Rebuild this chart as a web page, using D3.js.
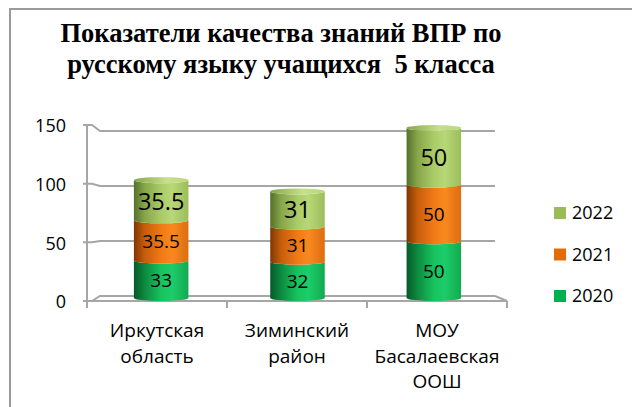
<!DOCTYPE html>
<html>
<head>
<meta charset="utf-8">
<script src="https://cdn.jsdelivr.net/npm/d3@7"></script>
<style>
  body { margin: 0; background: #fff; }
  svg { display: block; }
</style>
</head>
<body>
<div id="chart"></div>
<script>
// data
let categories = [["Иркутская", "область"], ["Зиминский", "район"], ["МОУ", "Басалаевская", "ООШ"]];
let years = ["2020", "2021", "2022"];
let v2020 = [33, 32, 50];
let v2021 = [35.5, 31, 50];
let v2022 = [35.5, 31, 50];
let yTicks = [0, 50, 100, 150];
let titleLines = ["Показатели качества знаний ВПР по", "русскому языку учащихся  5 класса"];

let width = 632;
let height = 407;
let labelFont = "'Open Sans', 'Noto Sans', sans-serif";

let svg = d3.select("#chart")
    .append("svg")
    .attr("width", width)
    .attr("height", height);

// outer frame (only top and left visible)
svg.append("path")
    .attr("d", "M10,408 L10,9 L633,9")
    .attr("fill", "none")
    .attr("stroke", "#9a9a9a")
    .attr("stroke-width", 2);

// title
svg.append("text")
    .attr("x", 281)
    .attr("y", 42)
    .attr("text-anchor", "middle")
    .style("white-space", "pre")
    .style("font", "bold 26.5px 'Liberation Serif', 'Times New Roman', serif")
    .selectAll("tspan")
    .data(titleLines)
    .join("tspan")
    .attr("x", 281)
    .attr("dy", (d, i) => i == 0 ? 0 : 31)
    .text(d => d);

let names = categories.map(d => d.join(" "));

// scales
let xFront = d3.scaleBand().domain(names).range([87, 507]);
let xBar = d3.scaleBand().domain(names).range([93, 502]);
let yFront = d3.scaleLinear().domain([0, 150]).range([301, 125]);
let yBack = d3.scaleLinear().domain([0, 150]).range([296, 131]);
let yBar = d3.scaleLinear().domain([0, 150]).range([298, 128]);

let gridColor = "#a6a6a6";
let grid = svg.append("g")
    .attr("fill", "none")
    .attr("stroke", gridColor)
    .attr("stroke-width", 2);

// back wall gridlines with the slanted side wall edge
grid.selectAll("path.grid")
    .data(yTicks)
    .join("path")
    .attr("class", "grid")
    .attr("d", t => {
        let x0 = xFront.range()[0];
        return `M${x0 - 4},${yFront(t)} L${x0 + 5},${yFront(t)} L${x0 + 13},${yBack(t)} L495,${yBack(t)}`;
    });

// floor front edge + right slant
grid.append("path")
    .attr("d", `M${xFront.range()[0]},${yFront(0)} L${xFront.range()[1]},${yFront(0)} L495,${yBack(0)}`);

// y axis line
grid.append("line")
    .attr("x1", xFront.range()[0]).attr("x2", xFront.range()[0])
    .attr("y1", yFront(150)).attr("y2", yFront(0) + 7);

// x ticks
let xTickPos = names.map(n => xFront(n)).concat([xFront.range()[1]]);
grid.selectAll("line.xt")
    .data(xTickPos)
    .join("line")
    .attr("class", "xt")
    .attr("x1", d => d).attr("x2", d => d)
    .attr("y1", yFront(0)).attr("y2", yFront(0) + 7);

// y tick labels
svg.append("g")
    .selectAll("text")
    .data(yTicks)
    .join("text")
    .attr("x", 66)
    .attr("y", d => yFront(d) + 1)
    .attr("dy", "0.36em")
    .attr("text-anchor", "end")
    .style("font", `18px ${labelFont}`)
    .text(d => d);

// category labels
svg.append("g")
    .selectAll("text")
    .data(categories)
    .join("text")
    .attr("text-anchor", "middle")
    .style("font", `19px ${labelFont}`)
    .each(function (d, i) {
        let cx = xFront(names[i]) + xFront.bandwidth() / 2;
        d3.select(this).selectAll("tspan")
            .data(d)
            .join("tspan")
            .attr("x", cx)
            .attr("y", (s, j) => 337 + j * 25.5)
            .text(s => s);
    });

// cylinder gradients
let colors = {
    "2020": { legend: "#00b050", stops: ["#07592a", "#0d8a40", "#17c35f", "#1ccd69", "#12aa50"], cap: "#2ed678" },
    "2021": { legend: "#e36c09", stops: ["#7f3604", "#c75d0b", "#f07a16", "#f9891f", "#dd6d0f"], cap: "#fb9a40" },
    "2022": { legend: "#9bbb59", stops: ["#56702a", "#86a64a", "#aacb67", "#b8d878", "#9dbd5b"], cap: "#c6e08c" }
};
let defs = svg.append("defs");
years.forEach(y => {
    let g = defs.append("linearGradient")
        .attr("id", "grad" + y)
        .attr("x1", "0%").attr("x2", "100%").attr("y1", "0%").attr("y2", "0%");
    let offs = [0, 0.2, 0.5, 0.7, 1];
    colors[y].stops.forEach((c, i) => {
        g.append("stop").attr("offset", offs[i]).attr("stop-color", c);
    });
    let cg = defs.append("linearGradient")
        .attr("id", "cap" + y)
        .attr("x1", "0%").attr("x2", "100%");
    cg.append("stop").attr("offset", 0).attr("stop-color", colors[y].stops[1]);
    cg.append("stop").attr("offset", 0.6).attr("stop-color", colors[y].cap);
    cg.append("stop").attr("offset", 1).attr("stop-color", colors[y].stops[3]);
});

// stack data
let stackRows = names.map((n, i) => ({ name: n, "2020": v2020[i], "2021": v2021[i], "2022": v2022[i] }));
let stacked = d3.stack().keys(years)(stackRows);

let ry = 3;
let barW = xBar.bandwidth() * 0.4;

let barsG = svg.append("g");
stacked.forEach((layer, li) => {
    let key = layer.key;
    barsG.selectAll("path.seg" + key)
        .data(layer)
        .join("path")
        .attr("class", "seg" + key)
        .attr("fill", `url(#grad${key})`)
        .attr("d", d => {
            let cx = xBar(d.data.name) + xBar.bandwidth() / 2;
            let x0 = cx - barW / 2, x1 = cx + barW / 2;
            let yt = yBar(d[1]), yb = yBar(d[0]);
            let rx = barW / 2;
            return `M${x0},${yt} L${x0},${yb} A${rx},${ry} 0 0 0 ${x1},${yb} L${x1},${yt} A${rx},${ry} 0 0 1 ${x0},${yt} Z`;
        });
});

// top caps
let topLayer = stacked[stacked.length - 1];
barsG.selectAll("ellipse.cap")
    .data(topLayer)
    .join("ellipse")
    .attr("class", "cap")
    .attr("cx", d => xBar(d.data.name) + xBar.bandwidth() / 2)
    .attr("cy", d => yBar(d[1]))
    .attr("rx", barW / 2)
    .attr("ry", ry)
    .attr("fill", "url(#cap2022)");

// data labels
let labelSize = { "2020": 19, "2021": 19, "2022": 23.5 };
stacked.forEach(layer => {
    let key = layer.key;
    svg.append("g")
        .selectAll("text")
        .data(layer)
        .join("text")
        .attr("x", d => xBar(d.data.name) + xBar.bandwidth() / 2)
        .attr("y", d => (yBar(d[0]) + yBar(d[1])) / 2 + 1)
        .attr("dy", "0.36em")
        .attr("text-anchor", "middle")
        .style("font", `${labelSize[key]}px ${labelFont}`)
        .text(d => d.data[key]);
});

// legend
let legendYears = years.slice().reverse();
let legend = svg.append("g")
    .selectAll("g")
    .data(legendYears)
    .join("g")
    .attr("transform", (d, i) => `translate(554, ${207 + i * 41.5})`);
legend.append("rect")
    .attr("width", 12)
    .attr("height", 12)
    .attr("fill", d => colors[d].legend);
legend.append("text")
    .attr("x", 18)
    .attr("y", 6)
    .attr("dy", "0.36em")
    .style("font", `18px ${labelFont}`)
    .text(d => d);
</script>
</body>
</html>
